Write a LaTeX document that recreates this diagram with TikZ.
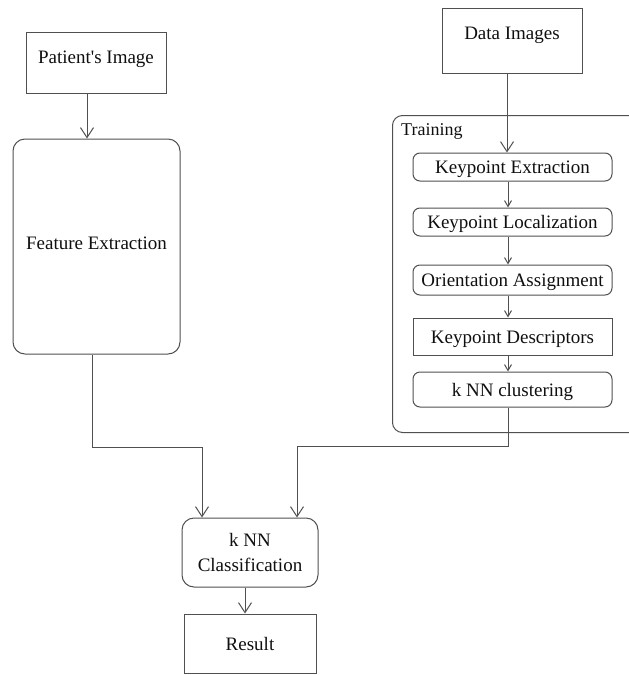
\documentclass[tikz,border=0pt]{standalone}
\usepackage{fontspec}
\setmainfont{LiberationSerif}[Extension=.ttf, UprightFont=*-Regular, BoldFont=*-Bold]
\usetikzlibrary{arrows.meta}
\definecolor{lc}{RGB}{80,80,80}
\definecolor{tc}{RGB}{15,15,15}
\begin{document}
\begin{tikzpicture}[x=1pt,y=-1pt,
  every node/.style={font=\rmfamily\fontsize{19}{25}\selectfont, text=tc},
  box/.style={draw=lc, line width=1pt, inner xsep=0pt, inner ysep=0pt},
  rbox/.style={box, rounded corners=12pt},
  sbox/.style={box, rounded corners=7pt},
  hd/.style 2 args={text height=#1, text depth=#2},
  arr/.style={draw=lc, line width=1pt, -{Straight Barb[length=10pt,width=13pt]}},
  sarr/.style={draw=lc, line width=1pt, -{Straight Barb[length=6pt,width=7pt]}}]
\useasboundingbox (0,0) rectangle (629,675);
\clip (0,0) rectangle (629,675);

% query branch
\node[box, minimum width=140pt, hd={31.5pt}{29.5pt}] (pat) at (96,62.5) {Patient\textquotesingle s Image};
\node[rbox, minimum width=167pt, hd={110.5pt}{104.5pt}] (feat) at (96.5,246.5) {Feature Extraction};

% training branch
\node[box, minimum width=140pt, hd={31.5pt}{33.5pt}] (data) at (512,40.5) {Data Images};
\node[box, rounded corners=10pt, minimum width=260pt, minimum height=317pt, anchor=north west] (train) at (392,115) {};
\node[anchor=west, inner sep=0pt, font=\rmfamily\fontsize{18}{20}\selectfont, hd={12pt}{0pt}] (trlab) at (401,129) {Training};

\node[sbox, minimum width=199pt, hd={20.5pt}{7.5pt}] (ke) at (512.5,167) {Keypoint Extraction};
\node[sbox, minimum width=199pt, hd={20.5pt}{7.5pt}] (kl) at (512.5,222) {Keypoint Localization};
\node[sbox, minimum width=199pt, hd={21.5pt}{8.5pt}] (oa) at (512.5,280) {Orientation Assignment};
\node[box, minimum width=199pt, hd={25pt}{12pt}] (kd) at (512.5,336.5) {Keypoint Descriptors};
\node[sbox, minimum width=199pt, hd={24pt}{11pt}] (kc) at (512.5,389.5) {k NN clustering};

% classification
\node[rbox, minimum width=136pt, minimum height=69pt, align=center] (knn) at (250,552.5) {k NN\\Classification};
\node[box, minimum width=132pt, hd={36pt}{23pt}] (res) at (250,643.5) {Result};

\coordinate (jl) at (202,447);
\coordinate (jr) at (297,446);

% connectors
\draw[arr] ([xshift=-9pt]pat.south) -- ([xshift=-9pt]pat.south |- feat.north);
\draw[arr] ([xshift=-4.5pt]feat.south) |- (jl) -- (jl |- knn.north);
\draw[arr] ([xshift=-5pt]data.south) -- ([xshift=-5pt]data.south |- ke.north);
\draw[sarr] ([xshift=-4.5pt]ke.south) -- ([xshift=-4.5pt]kl.north);
\draw[sarr] ([xshift=-4.5pt]kl.south) -- ([xshift=-4.5pt]oa.north);
\draw[sarr] ([xshift=-4.5pt]oa.south) -- ([xshift=-4.5pt]kd.north);
\draw[sarr] ([xshift=-4.5pt]kd.south) -- ([xshift=-4.5pt]kc.north);
\draw[arr] ([xshift=-4.5pt]kc.south) |- (jr) -- (jr |- knn.north);
\draw[arr] ([xshift=-5pt]knn.south) -- ([xshift=-5pt]res.north);
\end{tikzpicture}
\end{document}
